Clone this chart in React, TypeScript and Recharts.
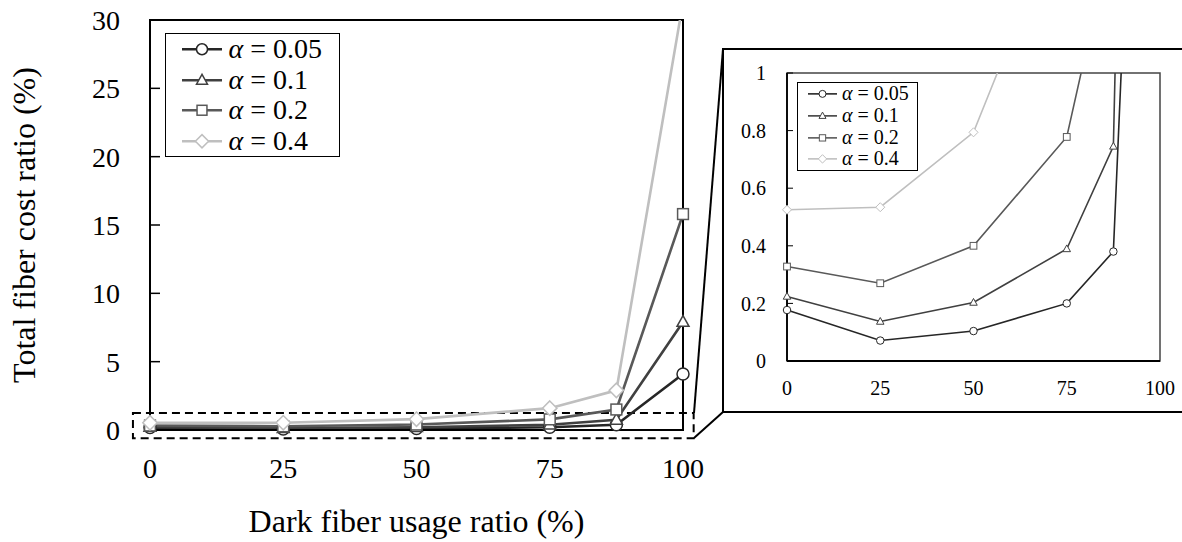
import React from 'react';
import { LineChart, Line, XAxis, YAxis, Legend, ReferenceArea, Label } from 'recharts';

const SERIF = "'Liberation Serif', 'Times New Roman', serif";

// dark fiber usage ratio (%)
const usage = [0, 25, 50, 75, 87.5, 100];
// total fiber cost ratio (%) per alpha
const alpha005 = [0.177, 0.071, 0.104, 0.2, 0.38, 4.1];
const alpha01 = [0.224, 0.137, 0.203, 0.389, 0.745, 7.9];
const alpha02 = [0.328, 0.27, 0.4, 0.778, 1.5, 15.8];
const alpha04 = [0.525, 0.534, 0.794, 1.6, 2.9, 31.3];

const alphaLabels = ['0.05', '0.1', '0.2', '0.4'];
const xTicks = [0, 25, 50, 75, 100];
const mainYTicks = [0, 5, 10, 15, 20, 25, 30];
const insetYTicks = [0, 0.2, 0.4, 0.6, 0.8, 1];

type Shape = 'circle' | 'triangle' | 'square' | 'diamond';

const series: { key: string; label: string; color: string; shape: Shape }[] = [
  { key: 'a005', label: alphaLabels[0], color: '#262626', shape: 'circle' },
  { key: 'a01', label: alphaLabels[1], color: '#404040', shape: 'triangle' },
  { key: 'a02', label: alphaLabels[2], color: '#595959', shape: 'square' },
  { key: 'a04', label: alphaLabels[3], color: '#bfbfbf', shape: 'diamond' },
];

const data = usage.map((x, i) => ({
  x,
  a005: alpha005[i],
  a01: alpha01[i],
  a02: alpha02[i],
  a04: alpha04[i],
}));

const Marker = ({ shape, cx, cy, s, color, sw }: any) => {
  const common = { fill: '#fff', stroke: color, strokeWidth: sw };
  if (shape === 'circle') return <circle cx={cx} cy={cy} r={s / 2} {...common} />;
  if (shape === 'triangle') {
    const h = s * 0.9;
    return (
      <polygon
        points={`${cx},${cy - h * 0.6} ${cx - s / 2},${cy + h * 0.4} ${cx + s / 2},${cy + h * 0.4}`}
        {...common}
      />
    );
  }
  if (shape === 'square')
    return <rect x={cx - s * 0.45} y={cy - s * 0.45} width={s * 0.9} height={s * 0.9} {...common} />;
  const d = s * 0.6;
  return <polygon points={`${cx},${cy - d} ${cx + d},${cy} ${cx},${cy + d} ${cx - d},${cy}`} {...common} />;
};

// lines go on the clipped axis "v", markers on the hidden axis "d" so they are not cut at the edges
const renderSeries = (max: number, size: number, lineW: number, markW: number) =>
  series.flatMap((s) => [
    <Line
      key={s.key + '-line'}
      yAxisId="v"
      dataKey={s.key}
      stroke={s.color}
      strokeWidth={lineW}
      dot={false}
      activeDot={false}
      isAnimationActive={false}
    />,
    <Line
      key={s.key + '-dots'}
      yAxisId="d"
      dataKey={(d: any) => (d[s.key] <= max ? d[s.key] : null)}
      stroke="none"
      legendType="none"
      activeDot={false}
      isAnimationActive={false}
      dot={(p: any) =>
        p.cx == null || p.cy == null ? (
          <g key={`${s.key}-${p.index}`} />
        ) : (
          <Marker key={`${s.key}-${p.index}`} shape={s.shape} cx={p.cx} cy={p.cy} s={size} color={s.color} sw={markW} />
        )
      }
    />,
  ]);

const LegendBox = ({ fontSize, rowH, symW, size, lineW, markW, padLeft, gap, width, border }: any) => (
  <div
    style={{
      border: `${border}px solid #000`,
      background: '#fff',
      width,
      boxSizing: 'border-box',
      fontFamily: SERIF,
      fontSize,
      color: '#000',
    }}
  >
    {series.map((s) => (
      <div
        key={s.key}
        style={{ display: 'flex', alignItems: 'center', height: rowH, paddingLeft: padLeft, whiteSpace: 'nowrap' }}
      >
        <svg width={symW} height={rowH} style={{ display: 'block' }}>
          <line x1={0} x2={symW} y1={rowH / 2} y2={rowH / 2} stroke={s.color} strokeWidth={lineW} />
          <Marker shape={s.shape} cx={symW / 2} cy={rowH / 2} s={size} color={s.color} sw={markW} />
        </svg>
        <span style={{ marginLeft: gap, lineHeight: `${rowH}px`, fontFamily: SERIF }}>
          <i style={{ fontFamily: SERIF }}>α</i> = {s.label}
        </span>
      </div>
    ))}
  </div>
);

const MainChart = () => (
  <LineChart width={720} height={542} data={data} margin={{ top: 20, right: 37, bottom: 52, left: 0 }}>
    <XAxis
      dataKey="x"
      type="number"
      domain={[0, 100]}
      ticks={xTicks}
      interval={0}
      height={60}
      tickLine={false}
      tickMargin={22}
      axisLine={{ stroke: '#000', strokeWidth: 2 }}
      tick={{ fill: '#000', fontSize: 28, fontFamily: SERIF }}
    >
      <Label value="Dark fiber usage ratio (%)" position="bottom" offset={19} fill="#000" fontSize={32} fontFamily={SERIF} />
    </XAxis>
    <YAxis
      yAxisId="v"
      type="number"
      domain={[0, 30]}
      allowDataOverflow
      ticks={mainYTicks}
      interval={0}
      width={150}
      tickSize={-10}
      tickMargin={40}
      axisLine={{ stroke: '#000', strokeWidth: 2 }}
      tickLine={{ stroke: '#000', strokeWidth: 1.5 }}
      tick={{ fill: '#000', fontSize: 28, fontFamily: SERIF }}
    >
      <Label
        value="Total fiber cost ratio (%)"
        angle={-90}
        position="insideLeft"
        offset={24}
        style={{ textAnchor: 'middle' }}
        fill="#000"
        fontSize={32}
        fontFamily={SERIF}
      />
    </YAxis>
    <YAxis yAxisId="d" orientation="right" type="number" domain={[0, 30]} width={0} hide />
    <ReferenceArea yAxisId="v" x1={0} x2={100} y1={0} y2={30} ifOverflow="visible" fill="none" stroke="#000" strokeWidth={2} />
    {renderSeries(30, 12, 2.6, 1.5)}
    <ReferenceArea
      yAxisId="v"
      x1={-3.2}
      x2={102}
      y1={-0.6}
      y2={1.25}
      ifOverflow="visible"
      fill="none"
      fillOpacity={0}
      stroke="#000"
      strokeWidth={2}
      strokeDasharray="8 5"
    />
    <Legend
      layout="horizontal"
      verticalAlign="middle"
      align="center"
      wrapperStyle={{ left: 165, top: 33, width: 175, height: 'auto' }}
      content={() => (
        <LegendBox fontSize={28} rowH={30.5} symW={40} size={11} lineW={2.6} markW={1.5} padLeft={15.5} gap={7} width={175} border={1.5} />
      )}
    />
  </LineChart>
);

const InsetChart = () => (
  <LineChart width={456} height={360} data={data} margin={{ top: 23, right: 20, bottom: 9, left: 0 }}>
    <XAxis
      dataKey="x"
      type="number"
      domain={[0, 100]}
      ticks={xTicks}
      interval={0}
      height={40}
      tickLine={false}
      tickMargin={14}
      axisLine={{ stroke: '#000', strokeWidth: 1.8 }}
      tick={{ fill: '#000', fontSize: 20, fontFamily: SERIF }}
    />
    <YAxis
      yAxisId="v"
      type="number"
      domain={[0, 1]}
      allowDataOverflow
      ticks={insetYTicks}
      interval={0}
      width={63}
      tickSize={-6}
      tickMargin={27}
      axisLine={{ stroke: '#000', strokeWidth: 1.8 }}
      tickLine={{ stroke: '#000', strokeWidth: 1 }}
      tick={{ fill: '#000', fontSize: 20, fontFamily: SERIF }}
    />
    <YAxis yAxisId="d" orientation="right" type="number" domain={[0, 1]} width={0} hide />
    <ReferenceArea yAxisId="v" x1={0} x2={100} y1={0} y2={1} ifOverflow="visible" fill="none" stroke="#444" strokeWidth={1.5} />
    {renderSeries(1, 7.5, 1.6, 1)}
    <Legend
      layout="horizontal"
      verticalAlign="middle"
      align="center"
      wrapperStyle={{ left: 73, top: 32, width: 121, height: 'auto' }}
      content={() => (
        <LegendBox fontSize={20} rowH={21.75} symW={29} size={7} lineW={1.6} markW={1} padLeft={10} gap={5} width={121} border={1} />
      )}
    />
  </LineChart>
);

export default function App() {
  return (
    <div style={{ position: 'absolute', left: 0, top: 0, width: 1182, height: 542, overflow: 'hidden', background: '#fff' }}>
      <div style={{ position: 'absolute', left: 0, top: 0 }}>
        <MainChart />
      </div>
      <div
        style={{
          position: 'absolute',
          left: 722,
          top: 48,
          width: 480,
          height: 365,
          boxSizing: 'border-box',
          borderTop: '2px solid #000',
          borderLeft: '2px solid #000',
          borderBottom: '2px solid #000',
        }}
      />
      <div style={{ position: 'absolute', left: 724, top: 50 }}>
        <InsetChart />
      </div>
      <svg width={1182} height={542} style={{ position: 'absolute', left: 0, top: 0, pointerEvents: 'none' }}>
        <line x1={723} y1={49} x2={694} y2={413} stroke="#000" strokeWidth={2} />
        <line x1={694} y1={438} x2={723} y2={412} stroke="#000" strokeWidth={2} />
      </svg>
    </div>
  );
}
